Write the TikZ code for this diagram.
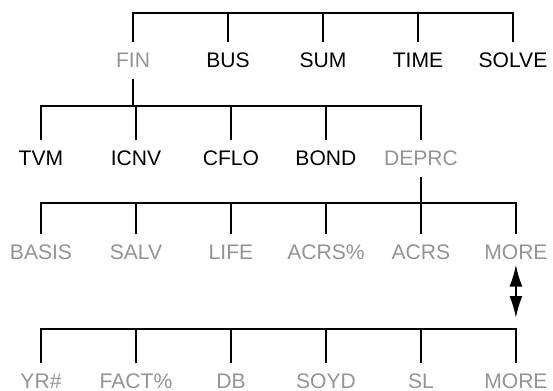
\documentclass[tikz,border=0pt]{standalone}
\usepackage{fontspec}
\setmainfont{Liberation Sans}
\usetikzlibrary{arrows.meta}
\begin{document}
\begin{tikzpicture}[x=0.02cm, y=-0.02cm, node distance=1.9cm, line width=1.2pt,
    key/.style={inner xsep=0pt, inner ysep=0.19cm, text height=8.6pt, text depth=0pt,
      font=\fontsize{12}{14}\selectfont},
    dim/.style={key, text=black!42}]
  \useasboundingbox (0,0) rectangle (553,391);
  \coordinate (bar1) at (0,13);
  \coordinate (bar2) at (0,106);
  \coordinate (bar3) at (0,203);
  \coordinate (bar4) at (0,329);

  \node[dim] (fin) at (133,60.4) {FIN};
  \node[key, right of=fin] (bus) {BUS};
  \node[key, right of=bus] (sum) {SUM};
  \node[key, right of=sum] (time) {TIME};
  \node[key, right of=time] (solve) {SOLVE};

  \node[key] (tvm) at (41,158.4) {TVM};
  \node[key, right of=tvm] (icnv) {ICNV};
  \node[key, right of=icnv] (cflo) {CFLO};
  \node[key, right of=cflo] (bond) {BOND};
  \node[dim, right of=bond] (deprc) {DEPRC};

  \node[dim] (basis) at (41,252.4) {BASIS};
  \node[dim, right of=basis] (salv) {SALV};
  \node[dim, right of=salv] (life) {LIFE};
  \node[dim, right of=life] (acrspct) {ACRS\%};
  \node[dim, right of=acrspct] (acrs) {ACRS};
  \node[dim, right of=acrs] (more) {MORE};

  \node[dim] (yr) at (41,381.4) {YR\#};
  \node[dim, right of=yr] (fact) {FACT\%};
  \node[dim, right of=fact] (db) {DB};
  \node[dim, right of=db] (soyd) {SOYD};
  \node[dim, right of=soyd] (sl) {SL};
  \node[dim, right of=sl] (moreb) {MORE};

  \draw (fin.north) -- (fin.north |- bar1) -- (solve.north |- bar1) -- (solve.north);
  \foreach \n in {bus,sum,time}
    \draw (\n.north) -- (\n.north |- bar1);

  \draw (fin.south) -- (fin.south |- bar2);
  \draw (tvm.north) -- (tvm.north |- bar2) -- (deprc.north |- bar2) -- (deprc.north);
  \foreach \n in {icnv,cflo,bond}
    \draw (\n.north) -- (\n.north |- bar2);

  \draw (deprc.south) -- (deprc.south |- bar3);
  \draw (basis.north) -- (basis.north |- bar3) -- (more.north |- bar3) -- (more.north);
  \foreach \n in {salv,life,acrspct,acrs}
    \draw (\n.north) -- (\n.north |- bar3);

  \draw (yr.north) -- (yr.north |- bar4) -- (moreb.north |- bar4) -- (moreb.north);
  \foreach \n in {fact,db,soyd,sl}
    \draw (\n.north) -- (\n.north |- bar4);

  \draw[{Latex[length=0.44cm, width=0.26cm]}-{Latex[length=0.44cm, width=0.26cm]}]
    ([yshift=0.12cm]more.south) -- ([yshift=0.22cm]moreb.north |- bar4);
\end{tikzpicture}
\end{document}
